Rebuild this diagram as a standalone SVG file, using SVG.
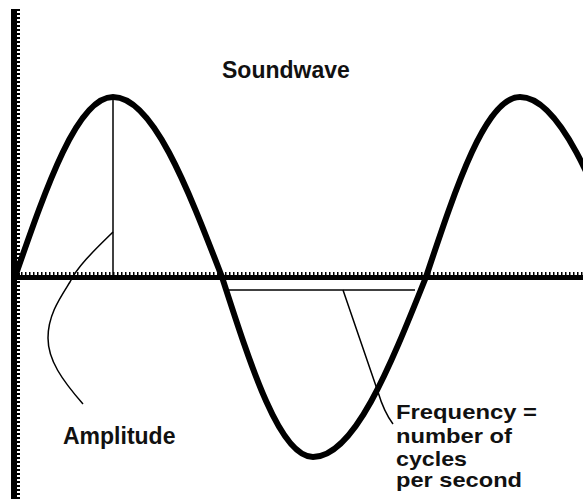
<svg xmlns="http://www.w3.org/2000/svg" width="583" height="499" viewBox="0 0 583 499">
<style>
.lbl{font-family:"Liberation Sans",Arial,sans-serif;font-weight:bold;font-size:23px;fill:#111}
.fq{font-size:21px}
.thin{fill:none;stroke:#000;stroke-width:1.5}
.wave{fill:none;stroke:#000;stroke-width:6;stroke-linejoin:round}
</style>
<rect width="583" height="499" fill="#fff"/>
<g id="axes">
<line x1="14" y1="9" x2="14" y2="499" stroke="#000" stroke-width="6"/>
<line x1="18.5" y1="9" x2="18.5" y2="499" stroke="#000" stroke-width="3" stroke-dasharray="2 2"/>
<line x1="11" y1="277.5" x2="583" y2="277.5" stroke="#000" stroke-width="5"/>
<line x1="17" y1="273.5" x2="583" y2="273.5" stroke="#000" stroke-width="3" stroke-dasharray="1.5 2.5"/>
</g>
<g id="wave">
<path class="wave" d="M15,277 C47,185 77.5,97 113,97 C152.4,97 186.5,185 222,277 C251.7,369 280.1,457 313,457 C353.9,457 389.2,369 426,277 C456.7,185 486,97 520,97 C559.8,97 594.1,185 630,277"/>
</g>
<g id="connectors">
<line class="thin" x1="113" y1="97" x2="113" y2="277"/>
<path class="thin" d="M113,232 C100,245 78,265 70,282 C60,298 48,315 48,338 C48,360 62,380 83,404"/>
<line class="thin" x1="226" y1="290" x2="415" y2="290"/>
<path class="thin" stroke-width="2" d="M343,290 L378,392 Q384,412 393,424"/>
</g>
<g id="soundwave-label"><text class="lbl" x="222" y="78">Soundwave</text></g>
<g id="amplitude-label"><text class="lbl" x="63" y="444">Amplitude</text></g>
<g id="frequency-label">
<text class="lbl fq" x="396" y="419" textLength="141" lengthAdjust="spacingAndGlyphs">Frequency =</text>
<text class="lbl fq" x="396" y="443" textLength="116" lengthAdjust="spacingAndGlyphs">number of</text>
<text class="lbl fq" x="396" y="466" textLength="71" lengthAdjust="spacingAndGlyphs">cycles</text>
<text class="lbl fq" x="396" y="487" textLength="126" lengthAdjust="spacingAndGlyphs">per second</text>
</g>
</svg>
